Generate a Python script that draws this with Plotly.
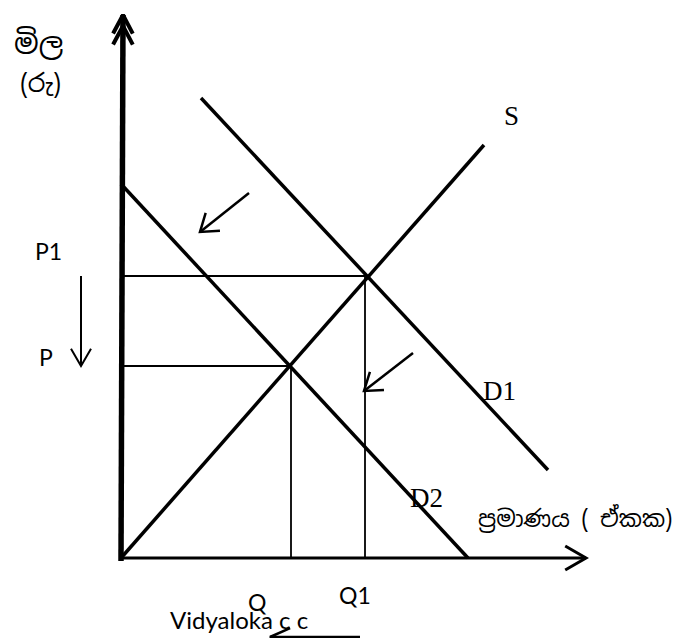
import numpy as np
import plotly.graph_objects as go

# ---- chart values (quantity on x, price on y; origin at the axes corner) ----
supply_x = [0, 363]
supply_y = [0, 413]
demand1_x = [80, 427]
demand1_y = [460, 88]
demand2_x = [0, 347]
demand2_y = [374, 0]
equilibrium_q = [170, 244]   # Q, Q1
equilibrium_p = [192, 282]   # P, P1
price_labels = ["P", "P1"]
quantity_labels = ["Q", "Q1"]
curve_labels = ["S", "D1", "D2"]

X_AXIS_END = 465
Y_AXIS_END = 543

fig = go.Figure()


def add_line(xs, ys, width):
    fig.add_trace(go.Scatter(x=xs, y=ys, mode="lines",
                             line=dict(color="black", width=width),
                             hoverinfo="skip"))


def add_head(tip, frm, length, ang_deg, width):
    tx, ty = tip
    d = np.array([tx - frm[0], ty - frm[1]], dtype=float)
    d /= np.linalg.norm(d)
    pts_x, pts_y = [], []
    for s in (1, -1):
        a = np.radians(ang_deg) * s
        r = np.array([d[0] * np.cos(a) - d[1] * np.sin(a),
                      d[0] * np.sin(a) + d[1] * np.cos(a)])
        pts_x.append(tx - length * r[0])
        pts_y.append(ty - length * r[1])
    add_line([pts_x[0], tx, pts_x[1]], [pts_y[0], ty, pts_y[1]], width)


def add_arrow(frm, tip, length, ang, width):
    add_line([frm[0], tip[0]], [frm[1], tip[1]], width)
    add_head(tip, frm, length, ang, width)


# axes
add_line([0, 2], [-3, Y_AXIS_END], 5.5)
add_head((2, Y_AXIS_END), (0, 0), 21, 28, 4)
add_head((2, Y_AXIS_END - 11), (0, 0), 21, 28, 4)
add_line([-2, X_AXIS_END], [0, 0], 3)
add_head((X_AXIS_END, 0), (0, 0), 24, 30, 3)

# guide lines
for q, p in zip(equilibrium_q, equilibrium_p):
    add_line([0, q], [p, p], 1.8)
    add_line([q, q], [p, 0], 1.8)

# curves
add_line(supply_x, supply_y, 3.5)
add_line(demand1_x, demand1_y, 3.5)
add_line(demand2_x, demand2_y, 3.5)

# shift arrows
add_arrow((128, 365), (79, 326), 20, 35, 2.5)
add_arrow((292, 205), (243, 167), 20, 35, 2.5)
add_arrow((-40, equilibrium_p[1]), (-40, equilibrium_p[0]), 20, 30, 2)
add_arrow((239, -79), (149, -79), 22, 24, 2.5)

serif = "Liberation Serif, Times New Roman, serif"
sans = "Lato, Calibri, sans-serif"
sinh = "Iskoola Pota, Noto Sans Sinhala, Noto Serif Sinhala, serif"

ann = []


def label(text, x, y, font, size, xanchor="center"):
    ann.append(dict(text=text, x=x, y=y, xref="x", yref="y", showarrow=False,
                    xanchor=xanchor, yanchor="middle",
                    font=dict(family=font, size=size, color="black")))


label(curve_labels[0], 390, 442, serif, 27)
label(curve_labels[1], 378, 167, serif, 27)
label(curve_labels[2], 305, 60, serif, 27)
label(price_labels[1], -73, 307, sans, 23)
label(price_labels[0], -75, 201, sans, 23)
label(quantity_labels[0], 136, -44, sans, 23)
label(quantity_labels[1], 234, -37, sans, 23)
label("Vidyaloka c c", 118, -61, sans, 24)
label("මිල", -83, 515, sinh, 29)
label("(රු)", -81, 475, sinh, 25)
label("ප්‍රමාණය ( ඒකක)", 355, 40, sinh, 23, xanchor="left")

fig.update_layout(
    width=683, height=638,
    margin=dict(l=0, r=0, t=0, b=0),
    paper_bgcolor="white", plot_bgcolor="white",
    showlegend=False,
    xaxis=dict(range=[-113, 570], visible=False, fixedrange=True),
    yaxis=dict(range=[-88, 550], visible=False, fixedrange=True),
    annotations=ann,
)

fig.write_html("out.html")
